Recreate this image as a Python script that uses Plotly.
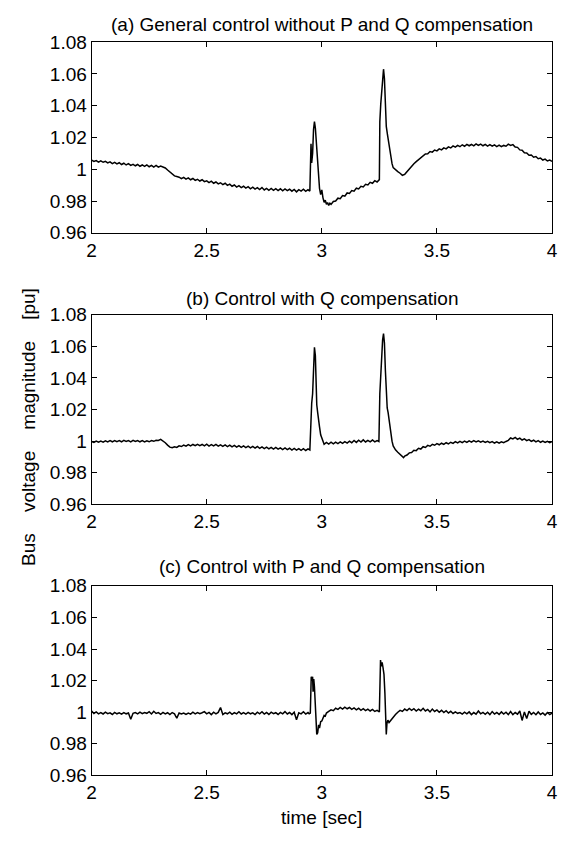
import plotly.graph_objects as go

# ---------------- data (time [s], bus voltage [pu]) ----------------
pts_a = [
    (2.00, 1.0058), (2.01, 1.0049), (2.02, 1.0055), (2.03, 1.0045), (2.04, 1.0053), (2.05, 1.0044),
    (2.06, 1.0050), (2.07, 1.0040), (2.08, 1.0047), (2.09, 1.0036), (2.10, 1.0044), (2.11, 1.0034),
    (2.12, 1.0041), (2.13, 1.0030), (2.14, 1.0038), (2.15, 1.0027), (2.16, 1.0035), (2.17, 1.0024),
    (2.18, 1.0031), (2.19, 1.0022), (2.20, 1.0030), (2.21, 1.0019), (2.22, 1.0027), (2.23, 1.0018),
    (2.24, 1.0028), (2.25, 1.0016), (2.26, 1.0025), (2.27, 1.0014), (2.28, 1.0024), (2.29, 1.0013),
    (2.30, 1.0020), (2.31, 1.0014), (2.32, 1.0008), (2.33, 0.9995), (2.34, 0.9982), (2.35, 0.9968),
    (2.36, 0.9958), (2.37, 0.9954), (2.38, 0.9950), (2.39, 0.9941), (2.40, 0.9949), (2.41, 0.9938),
    (2.42, 0.9946), (2.43, 0.9934), (2.44, 0.9942), (2.45, 0.9930), (2.46, 0.9937), (2.47, 0.9926),
    (2.48, 0.9934), (2.49, 0.9922), (2.50, 0.9927), (2.51, 0.9916), (2.52, 0.9925), (2.53, 0.9912),
    (2.54, 0.9920), (2.55, 0.9908), (2.56, 0.9915), (2.57, 0.9903), (2.58, 0.9912), (2.59, 0.9899),
    (2.60, 0.9906), (2.61, 0.9893), (2.62, 0.9901), (2.63, 0.9888), (2.64, 0.9897), (2.65, 0.9885),
    (2.66, 0.9893), (2.67, 0.9881), (2.68, 0.9890), (2.69, 0.9877), (2.70, 0.9887), (2.71, 0.9875),
    (2.72, 0.9884), (2.73, 0.9872), (2.74, 0.9885), (2.75, 0.9870), (2.76, 0.9880), (2.77, 0.9868),
    (2.78, 0.9879), (2.79, 0.9867), (2.80, 0.9878), (2.81, 0.9866), (2.82, 0.9877), (2.83, 0.9864),
    (2.84, 0.9876), (2.85, 0.9865), (2.86, 0.9874), (2.87, 0.9862), (2.88, 0.9873), (2.89, 0.9858),
    (2.90, 0.9872), (2.91, 0.9863), (2.92, 0.9874), (2.93, 0.9861), (2.94, 0.9871), (2.948, 0.9863),
    (2.950, 1.0120), (2.953, 1.0160), (2.956, 1.0040), (2.960, 1.0100), (2.964, 1.0250), (2.968, 1.0300),
    (2.972, 1.0260), (2.976, 1.0160), (2.980, 1.0050), (2.985, 0.9960), (2.990, 0.9880), (2.995, 0.9840),
    (3.000, 0.9870), (3.005, 0.9820), (3.010, 0.9792), (3.015, 0.9805), (3.020, 0.9780), (3.025, 0.9790),
    (3.030, 0.9772), (3.035, 0.9786), (3.040, 0.9779), (3.05, 0.9797), (3.06, 0.9800), (3.07, 0.9818),
    (3.08, 0.9815), (3.09, 0.9834), (3.10, 0.9831), (3.11, 0.9851), (3.12, 0.9848), (3.13, 0.9866),
    (3.14, 0.9862), (3.15, 0.9881), (3.16, 0.9876), (3.17, 0.9893), (3.18, 0.9889), (3.19, 0.9905),
    (3.20, 0.9901), (3.21, 0.9918), (3.22, 0.9912), (3.23, 0.9928), (3.24, 0.9920), (3.25, 0.9935),
    (3.252, 1.0300), (3.256, 1.0410), (3.260, 1.0500), (3.264, 1.0600), (3.268, 1.0630), (3.272, 1.0570),
    (3.276, 1.0400), (3.280, 1.0270), (3.285, 1.0220), (3.290, 1.0170), (3.295, 1.0120), (3.300, 1.0070),
    (3.305, 1.0035), (3.310, 1.0010), (3.320, 0.9995), (3.330, 0.9985), (3.340, 0.9975), (3.350, 0.9962),
    (3.36, 0.9968), (3.37, 0.9985), (3.38, 1.0005), (3.39, 1.0018), (3.40, 1.0035), (3.41, 1.0048),
    (3.42, 1.0060), (3.43, 1.0075), (3.44, 1.0082), (3.45, 1.0096), (3.46, 1.0098), (3.47, 1.0112),
    (3.48, 1.0108), (3.49, 1.0121), (3.50, 1.0116), (3.51, 1.0128), (3.52, 1.0122), (3.53, 1.0135),
    (3.54, 1.0128), (3.55, 1.0141), (3.56, 1.0134), (3.57, 1.0147), (3.58, 1.0139), (3.59, 1.0150),
    (3.60, 1.0142), (3.61, 1.0154), (3.62, 1.0145), (3.63, 1.0157), (3.64, 1.0148), (3.65, 1.0156),
    (3.66, 1.0147), (3.67, 1.0160), (3.68, 1.0150), (3.69, 1.0158), (3.70, 1.0148), (3.71, 1.0157),
    (3.72, 1.0146), (3.73, 1.0155), (3.74, 1.0145), (3.75, 1.0154), (3.76, 1.0143), (3.77, 1.0152),
    (3.78, 1.0142), (3.79, 1.0150), (3.80, 1.0145), (3.81, 1.0158), (3.82, 1.0150), (3.83, 1.0155),
    (3.84, 1.0140), (3.85, 1.0138), (3.86, 1.0122), (3.87, 1.0120), (3.88, 1.0104), (3.89, 1.0102),
    (3.90, 1.0088), (3.91, 1.0090), (3.92, 1.0076), (3.93, 1.0080), (3.94, 1.0066), (3.95, 1.0070),
    (3.96, 1.0058), (3.97, 1.0064), (3.98, 1.0052), (3.99, 1.0058), (4.00, 1.0050),
]

pts_b = [
    (2.00, 0.9998), (2.01, 0.9992), (2.02, 1.0001), (2.03, 0.9993), (2.04, 1.0000), (2.05, 0.9994),
    (2.06, 1.0002), (2.07, 0.9995), (2.08, 1.0003), (2.09, 0.9996), (2.10, 1.0004), (2.11, 0.9997),
    (2.12, 1.0003), (2.13, 0.9996), (2.14, 1.0005), (2.15, 0.9998), (2.16, 1.0004), (2.17, 0.9996),
    (2.18, 1.0005), (2.19, 0.9998), (2.20, 1.0004), (2.21, 0.9996), (2.22, 1.0003), (2.23, 0.9995),
    (2.24, 1.0002), (2.25, 0.9996), (2.26, 1.0004), (2.27, 0.9999), (2.28, 1.0006), (2.29, 1.0004),
    (2.30, 1.0011), (2.31, 1.0002), (2.32, 0.9990), (2.33, 0.9975), (2.34, 0.9962), (2.35, 0.9958),
    (2.36, 0.9964), (2.37, 0.9960), (2.38, 0.9970), (2.39, 0.9966), (2.40, 0.9975), (2.41, 0.9968),
    (2.42, 0.9978), (2.43, 0.9970), (2.44, 0.9979), (2.45, 0.9971), (2.46, 0.9980), (2.47, 0.9972),
    (2.48, 0.9979), (2.49, 0.9970), (2.50, 0.9981), (2.51, 0.9969), (2.52, 0.9978), (2.53, 0.9970),
    (2.54, 0.9979), (2.55, 0.9968), (2.56, 0.9977), (2.57, 0.9967), (2.58, 0.9976), (2.59, 0.9966),
    (2.60, 0.9975), (2.61, 0.9964), (2.62, 0.9973), (2.63, 0.9962), (2.64, 0.9972), (2.65, 0.9961),
    (2.66, 0.9970), (2.67, 0.9959), (2.68, 0.9968), (2.69, 0.9958), (2.70, 0.9967), (2.71, 0.9956),
    (2.72, 0.9966), (2.73, 0.9955), (2.74, 0.9964), (2.75, 0.9953), (2.76, 0.9962), (2.77, 0.9951),
    (2.78, 0.9961), (2.79, 0.9950), (2.80, 0.9960), (2.81, 0.9949), (2.82, 0.9958), (2.83, 0.9947),
    (2.84, 0.9957), (2.85, 0.9946), (2.86, 0.9955), (2.87, 0.9944), (2.88, 0.9954), (2.89, 0.9943),
    (2.90, 0.9953), (2.91, 0.9942), (2.92, 0.9952), (2.93, 0.9941), (2.94, 0.9951), (2.948, 0.9944),
    (2.952, 1.0150), (2.956, 1.0240), (2.960, 1.0300), (2.964, 1.0500), (2.968, 1.0594), (2.972, 1.0540),
    (2.975, 1.0350), (2.978, 1.0230), (2.982, 1.0180), (2.986, 1.0120), (2.990, 1.0090), (2.995, 1.0040),
    (3.000, 1.0020), (3.005, 0.9995), (3.01, 0.9980), (3.02, 0.9992), (3.03, 0.9982), (3.04, 0.9993),
    (3.05, 0.9983), (3.06, 0.9994), (3.07, 0.9985), (3.08, 0.9995), (3.09, 0.9986), (3.10, 0.9997),
    (3.11, 0.9988), (3.12, 1.0000), (3.13, 0.9990), (3.14, 1.0004), (3.15, 0.9992), (3.16, 1.0006),
    (3.17, 0.9994), (3.18, 1.0008), (3.19, 0.9995), (3.20, 1.0005), (3.21, 0.9996), (3.22, 1.0007),
    (3.23, 0.9995), (3.24, 1.0004), (3.248, 0.9998), (3.252, 1.0300), (3.256, 1.0420), (3.260, 1.0540),
    (3.264, 1.0640), (3.268, 1.0680), (3.272, 1.0620), (3.276, 1.0450), (3.280, 1.0250), (3.284, 1.0210),
    (3.288, 1.0180), (3.292, 1.0130), (3.296, 1.0090), (3.300, 1.0050), (3.305, 1.0000), (3.310, 0.9970),
    (3.320, 0.9945), (3.330, 0.9930), (3.340, 0.9915), (3.350, 0.9905), (3.355, 0.9896), (3.360, 0.9906),
    (3.370, 0.9912), (3.380, 0.9926), (3.390, 0.9928), (3.400, 0.9942), (3.41, 0.9940), (3.42, 0.9955),
    (3.43, 0.9950), (3.44, 0.9965), (3.45, 0.9960), (3.46, 0.9973), (3.47, 0.9968), (3.48, 0.9980),
    (3.49, 0.9974), (3.50, 0.9984), (3.51, 0.9977), (3.52, 0.9987), (3.53, 0.9980), (3.54, 0.9990),
    (3.55, 0.9983), (3.56, 0.9993), (3.57, 0.9986), (3.58, 0.9997), (3.59, 0.9989), (3.60, 0.9999),
    (3.61, 0.9991), (3.62, 1.0000), (3.63, 0.9992), (3.64, 1.0002), (3.65, 0.9994), (3.66, 1.0003),
    (3.67, 0.9995), (3.68, 1.0002), (3.69, 0.9994), (3.70, 1.0001), (3.71, 0.9992), (3.72, 0.9999),
    (3.73, 0.9990), (3.74, 0.9997), (3.75, 0.9988), (3.76, 0.9995), (3.77, 0.9987), (3.78, 0.9996),
    (3.79, 0.9990), (3.80, 0.9998), (3.81, 1.0005), (3.82, 1.0020), (3.83, 1.0014), (3.84, 1.0024),
    (3.85, 1.0012), (3.86, 1.0019), (3.87, 1.0007), (3.88, 1.0014), (3.89, 1.0003), (3.90, 1.0010),
    (3.91, 0.9999), (3.92, 1.0006), (3.93, 0.9995), (3.94, 1.0003), (3.95, 0.9993), (3.96, 1.0001),
    (3.97, 0.9992), (3.98, 0.9999), (3.99, 0.9991), (4.00, 0.9997),
]

pts_c = [
    (2.00, 1.0008), (2.01, 0.9992), (2.02, 1.0002), (2.03, 0.9990), (2.04, 0.9998), (2.05, 0.9989),
    (2.06, 1.0000), (2.07, 0.9991), (2.08, 0.9996), (2.09, 0.9986), (2.10, 0.9999), (2.11, 0.9990),
    (2.12, 0.9996), (2.13, 0.9988), (2.14, 0.9998), (2.15, 0.9990), (2.16, 0.9995), (2.17, 0.9955),
    (2.18, 0.9993), (2.19, 0.9998), (2.20, 0.9990), (2.21, 1.0000), (2.22, 0.9991), (2.23, 0.9998),
    (2.24, 0.9993), (2.25, 1.0003), (2.26, 0.9989), (2.27, 1.0006), (2.28, 0.9992), (2.29, 0.9998),
    (2.30, 0.9987), (2.31, 0.9999), (2.32, 0.9990), (2.33, 0.9997), (2.34, 0.9985), (2.35, 0.9998),
    (2.36, 0.9990), (2.37, 0.9962), (2.38, 0.9995), (2.39, 0.9989), (2.40, 0.9995), (2.41, 0.9986),
    (2.42, 0.9994), (2.43, 0.9988), (2.44, 1.0000), (2.45, 0.9990), (2.46, 0.9998), (2.47, 0.9991),
    (2.48, 0.9997), (2.49, 1.0004), (2.50, 0.9990), (2.51, 0.9999), (2.52, 0.9985), (2.53, 1.0000),
    (2.54, 0.9990), (2.55, 0.9999), (2.56, 1.0030), (2.57, 0.9985), (2.58, 0.9996), (2.59, 0.9990),
    (2.60, 1.0000), (2.61, 0.9987), (2.62, 0.9998), (2.63, 0.9990), (2.64, 1.0003), (2.65, 0.9989),
    (2.66, 0.9997), (2.67, 0.9988), (2.68, 0.9999), (2.69, 0.9990), (2.70, 0.9996), (2.71, 0.9985),
    (2.72, 1.0000), (2.73, 0.9990), (2.74, 1.0003), (2.75, 0.9988), (2.76, 0.9998), (2.77, 0.9986),
    (2.78, 1.0000), (2.79, 0.9991), (2.80, 0.9997), (2.81, 0.9986), (2.82, 0.9999), (2.83, 0.9990),
    (2.84, 1.0004), (2.85, 0.9989), (2.86, 0.9998), (2.87, 0.9985), (2.88, 1.0000), (2.89, 0.9952),
    (2.90, 0.9997), (2.91, 0.9990), (2.92, 1.0003), (2.93, 0.9988), (2.94, 0.9998), (2.945, 0.9990),
    (2.950, 0.9994), (2.952, 1.0150), (2.954, 1.0225), (2.957, 1.0200), (2.960, 1.0225), (2.962, 1.0130),
    (2.965, 1.0210), (2.968, 1.0160), (2.972, 1.0050), (2.975, 0.9920), (2.978, 0.9860), (2.982, 0.9870),
    (2.986, 0.9920), (2.990, 0.9900), (2.995, 0.9940), (3.000, 0.9945), (3.005, 0.9965), (3.010, 0.9980),
    (3.015, 0.9975), (3.020, 0.9995), (3.03, 1.0005), (3.04, 1.0015), (3.05, 1.0010), (3.06, 1.0025),
    (3.07, 1.0018), (3.08, 1.0030), (3.09, 1.0020), (3.10, 1.0032), (3.11, 1.0022), (3.12, 1.0030),
    (3.13, 1.0018), (3.14, 1.0027), (3.15, 1.0015), (3.16, 1.0025), (3.17, 1.0012), (3.18, 1.0022),
    (3.19, 1.0010), (3.20, 1.0020), (3.21, 1.0008), (3.22, 1.0018), (3.23, 1.0005), (3.24, 1.0012),
    (3.25, 1.0002), (3.252, 1.0300), (3.255, 1.0330), (3.258, 1.0290), (3.262, 1.0315), (3.266, 1.0280),
    (3.270, 1.0240), (3.274, 1.0120), (3.277, 0.9980), (3.280, 0.9860), (3.283, 0.9930), (3.287, 0.9950),
    (3.292, 0.9935), (3.297, 0.9945), (3.302, 0.9950), (3.310, 0.9965), (3.320, 0.9985), (3.330, 1.0000),
    (3.34, 1.0012), (3.35, 1.0005), (3.36, 1.0020), (3.37, 1.0010), (3.38, 1.0024), (3.39, 1.0012),
    (3.40, 1.0022), (3.41, 1.0008), (3.42, 1.0020), (3.43, 1.0010), (3.44, 1.0025), (3.45, 1.0008),
    (3.46, 1.0018), (3.47, 1.0002), (3.48, 1.0020), (3.49, 1.0005), (3.50, 1.0015), (3.51, 1.0000),
    (3.52, 1.0012), (3.53, 0.9998), (3.54, 1.0010), (3.55, 0.9995), (3.56, 1.0006), (3.57, 0.9992),
    (3.58, 1.0002), (3.59, 0.9993), (3.60, 0.9998), (3.61, 0.9988), (3.62, 1.0000), (3.63, 0.9990),
    (3.64, 1.0002), (3.65, 0.9985), (3.66, 0.9998), (3.67, 0.9988), (3.68, 1.0008), (3.69, 0.9990),
    (3.70, 0.9999), (3.71, 0.9987), (3.72, 1.0000), (3.73, 0.9985), (3.74, 1.0004), (3.75, 0.9988),
    (3.76, 0.9998), (3.77, 0.9986), (3.78, 1.0002), (3.79, 0.9988), (3.80, 1.0000), (3.81, 0.9985),
    (3.82, 1.0005), (3.83, 0.9985), (3.84, 0.9998), (3.85, 0.9988), (3.86, 1.0008), (3.87, 0.9948),
    (3.88, 1.0002), (3.89, 0.9960), (3.90, 1.0006), (3.91, 0.9986), (3.92, 0.9998), (3.93, 0.9984),
    (3.94, 1.0002), (3.95, 0.9986), (3.96, 0.9996), (3.97, 0.9982), (3.98, 0.9998), (3.99, 0.9985),
    (4.00, 0.9995),
]

t_a, v_a = [p[0] for p in pts_a], [p[1] for p in pts_a]
t_b, v_b = [p[0] for p in pts_b], [p[1] for p in pts_b]
t_c, v_c = [p[0] for p in pts_c], [p[1] for p in pts_c]

titles = ["(a) General control without P and Q compensation",
          "(b) Control with Q compensation",
          "(c) Control with P and Q compensation"]
x_ticks = [2, 2.5, 3, 3.5, 4]
x_tick_text = ["2", "2.5", "3", "3.5", "4"]
y_ticks = [0.96, 0.98, 1.00, 1.02, 1.04, 1.06, 1.08]
y_tick_text = ["0.96", "0.98", "1", "1.02", "1.04", "1.06", "1.08"]
x_label = "time [sec]"
y_label = "Bus\u00a0\u00a0\u00a0\u00a0voltage\u00a0\u00a0\u00a0\u00a0magnitude\u00a0\u00a0\u00a0\u00a0[pu]"

# ---------------- figure ----------------
W, H = 575, 843
FONT = "Liberation Sans, Arial, sans-serif"
FS = 19
x_dom = [88.3 / W, 557.7 / W]
panels = [(33.0, 228.5), (312.5, 507.0), (590.5, 785.0)]  # top/bottom pixel rows
title_y = [15, 296, 571]

fig = go.Figure()
series = [(t_a, v_a), (t_b, v_b), (t_c, v_c)]
for i, (t, v) in enumerate(series):
    n = "" if i == 0 else str(i + 1)
    fig.add_trace(go.Scatter(x=t, y=v, mode="lines",
                             line=dict(color="black", width=1.5),
                             xaxis="x" + n, yaxis="y" + n, showlegend=False))
    top, bot = panels[i]
    common = dict(ticks="inside", ticklen=5, tickcolor="black", showline=True,
                  linecolor="black", linewidth=1, mirror="ticks", showgrid=False,
                  zeroline=False, tickfont=dict(family=FONT, size=FS, color="black"))
    ax = dict(domain=x_dom, range=[2, 4], tickvals=x_ticks, ticktext=x_tick_text,
              anchor="y" + n, **common)
    ay = dict(domain=[1 - bot / H, 1 - top / H], range=[0.96, 1.08], tickvals=y_ticks,
              ticktext=y_tick_text, anchor="x" + n, **common)
    fig.update_layout(**{"xaxis" + n: ax, "yaxis" + n: ay})
    fig.add_annotation(text=titles[i], x=(x_dom[0] + x_dom[1]) / 2, y=1 - title_y[i] / H,
                       xref="paper", yref="paper", showarrow=False, xanchor="center",
                       yanchor="middle", font=dict(family=FONT, size=FS, color="black"))

fig.add_annotation(text=x_label, x=(x_dom[0] + x_dom[1]) / 2, y=1 - 828 / H, xref="paper",
                   yref="paper", showarrow=False, xanchor="center", yanchor="middle",
                   font=dict(family=FONT, size=FS, color="black"))
fig.add_annotation(text=y_label, x=24 / W, y=1 - 428 / H, xref="paper", yref="paper",
                   showarrow=False, textangle=-90, xanchor="center", yanchor="middle",
                   font=dict(family=FONT, size=FS, color="black"))

fig.update_layout(width=W, height=H, margin=dict(l=0, r=0, t=0, b=0),
                  paper_bgcolor="white", plot_bgcolor="white")
fig.write_html("out.html")
